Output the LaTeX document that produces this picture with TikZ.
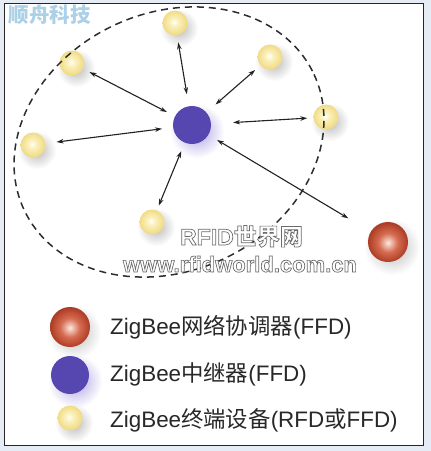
\documentclass[tikz,border=0pt]{standalone}
\usepackage{fontspec}
\setmainfont{Liberation Sans}
\newfontfamily\cjk{Noto Sans CJK SC}
\usetikzlibrary{arrows.meta,fadings}

\definecolor{bgblue}{RGB}{230,236,246}
\definecolor{ylwedge}{RGB}{240,218,130}
\definecolor{ylwmid}{RGB}{251,241,190}
\definecolor{ylwcore}{RGB}{255,254,246}
\definecolor{rededge}{RGB}{172,60,36}
\definecolor{redmid}{RGB}{214,108,82}
\definecolor{redcore}{RGB}{252,232,224}
\definecolor{hubpurple}{RGB}{86,70,176}
\definecolor{halopurple}{RGB}{120,100,210}
\definecolor{linkgray}{RGB}{34,34,34}
\definecolor{dashgray}{RGB}{45,45,45}
\definecolor{textgray}{RGB}{40,40,40}
\definecolor{wmblue}{RGB}{172,208,230}
\definecolor{fadeA}{gray}{1}
\definecolor{fadeB}{gray}{0.75}
\definecolor{fadeC}{gray}{0}

\pgfdeclareradialshading{yball}{\pgfpoint{-2bp}{2bp}}{color(0bp)=(ylwcore); color(8bp)=(ylwmid); color(25bp)=(ylwedge); color(50bp)=(ylwedge)}
\pgfdeclareradialshading{rball}{\pgfpoint{0bp}{-1bp}}{color(0bp)=(redcore); color(12bp)=(redmid); color(25bp)=(rededge); color(50bp)=(rededge)}
\pgfdeclareradialshading{softfadeshade}{\pgfpointorigin}{color(0bp)=(fadeA); color(8bp)=(fadeB); color(25bp)=(fadeC); color(50bp)=(fadeC)}
\pgfdeclarefading{softfade}{\pgfuseshading{softfadeshade}}

\newcommand\legfont{\fontsize{22.4}{26}\selectfont}
% outlined (white fill, grey stroke) text via PDF text render mode 2
\newcommand\outlined[1]{\special{pdf:code q 2 Tr 0.7 w 0.42 0.42 0.42 RG}#1\special{pdf:code Q}}

\begin{document}
\begin{tikzpicture}[x=1pt,y=-1pt,
  enddev/.style={circle, inner sep=0pt, minimum size=25pt, shade, shading=yball},
  coordnode/.style={circle, inner sep=0pt, minimum size=40pt, shade, shading=rball},
  router/.style={circle, inner sep=0pt, minimum size=38pt, fill=hubpurple},
  softshadow/.style={fill=black!55, fill opacity=0.45, path fading=softfade},
  purplehalo/.style={fill=halopurple, fill opacity=0.55, path fading=softfade},
  link/.style={<->, >={Stealth[length=7pt,width=4.5pt]}, line width=1.1pt, draw=linkgray},
  embtext/.style={inner sep=0pt, anchor=base, text=white},
  legtext/.style={inner sep=0pt, anchor=base west, text=textgray, font=\legfont},
  wmark/.style={inner sep=0pt, text=wmblue, font=\cjk\bfseries\fontsize{20.5}{22}\selectfont}]
\useasboundingbox (0,0) rectangle (431,451);
\fill[bgblue] (0,0) rectangle (431,451);
\draw[fill=white, draw=black!85, line width=0.9pt] (4,3) rectangle (423,445);

% watermark
\node[wmark] (wm) at (50,15) {顺舟科技};

% shadows and halos
\foreach \x/\y in {175/23,72/63,33/145,152/222,270/57,326/117}
  \fill[softshadow] (\x+4,\y+5) circle (19);
\fill[softshadow] (392,247) circle (28);
\fill[purplehalo] (197,131) circle (27);

% network nodes
\node[router] (hub) at (192,125) {};
\node[coordnode] (coord) at (388,242) {};
\node[enddev] (e1) at (175,23) {};
\node[enddev] (e2) at (72,63) {};
\node[enddev] (e3) at (33,145) {};
\node[enddev] (e4) at (152,222) {};
\node[enddev] (e5) at (270,57) {};
\node[enddev] (e6) at (326,117) {};

% links
\draw[link, shorten <=12pt, shorten >=7pt] (hub) -- (e1);
\draw[link, shorten <=9pt, shorten >=7pt] (hub) -- (e2);
\draw[link, shorten <=11pt, shorten >=11pt] (hub) -- (e3);
\draw[link, shorten <=9pt, shorten >=5pt] (hub) -- (e4);
\draw[link, shorten <=12pt, shorten >=7pt] (hub) -- (e5);
\draw[link, shorten <=22pt, shorten >=6pt] (hub) -- (e6);
\draw[link, shorten <=10pt, shorten >=26pt] (hub) -- (coord);

% range
\draw[dashgray, line width=1.5pt, dash pattern=on 7pt off 5pt, rotate around={25:(169,142)}]
  (169,142) ellipse [x radius=160, y radius=129];

% site texts
\node[embtext] (site) at (241.5,245) {\fontsize{23}{26}\selectfont\bfseries\outlined{RFID{\cjk\bfseries 世界网}}};
\node[embtext] (url) at (240,272) {\fontsize{22}{26}\selectfont\bfseries\outlined{www.rfidworld.com.cn}};

% legend
\fill[softshadow] (74,332) circle (27);
\node[coordnode] (lc) at (70,327) {};
\fill[purplehalo] (75,381) circle (27);
\node[router] (lr) at (70,375) {};
\fill[softshadow] (74,423) circle (19);
\node[enddev] (le) at (70,418) {};

\node[legtext] (t1) at (110,334) {ZigBee{\cjk 网络协调器}(FFD)};
\node[legtext] (t2) at (110,381) {ZigBee{\cjk 中继器}(FFD)};
\node[legtext] (t3) at (110,427) {ZigBee{\cjk 终端设备}(RFD{\cjk 或}FFD)};
\end{tikzpicture}
\end{document}
